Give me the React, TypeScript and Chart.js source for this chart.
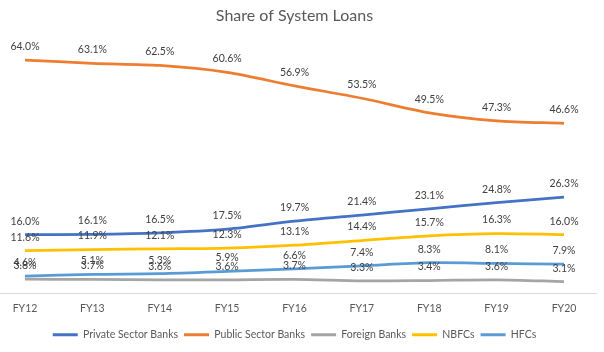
import React, { useEffect, useRef } from "react";
import { Chart, registerables } from "chart.js";

Chart.register(...registerables);

const categories = ["FY12", "FY13", "FY14", "FY15", "FY16", "FY17", "FY18", "FY19", "FY20"];
const privateSectorBanks = [16.0, 16.1, 16.5, 17.5, 19.7, 21.4, 23.1, 24.8, 26.3];
const publicSectorBanks = [64.0, 63.1, 62.5, 60.6, 56.9, 53.5, 49.5, 47.3, 46.6];
const foreignBanks = [3.8, 3.7, 3.6, 3.6, 3.7, 3.3, 3.4, 3.6, 3.1];
const nbfcs = [11.6, 11.9, 12.1, 12.3, 13.1, 14.4, 15.7, 16.3, 16.0];
const hfcs = [4.6, 5.1, 5.3, 5.9, 6.6, 7.4, 8.3, 8.1, 7.9];

const seriesNames = ["Private Sector Banks", "Public Sector Banks", "Foreign Banks", "NBFCs", "HFCs"];
const seriesColors = ["#4472C4", "#ED7D31", "#A5A5A5", "#FFC000", "#5B9BD5"];
const seriesValues = [privateSectorBanks, publicSectorBanks, foreignBanks, nbfcs, hfcs];

const FONT = "Lato, 'Open Sans', sans-serif";

const axisLinePlugin = {
  id: "axisLine",
  beforeDatasetsDraw(chart: any) {
    const y = Math.round(chart.scales.y.getPixelForValue(0)) + 0.5;
    const ctx = chart.ctx;
    ctx.save();
    ctx.strokeStyle = "#D9D9D9";
    ctx.lineWidth = 1;
    ctx.beginPath();
    ctx.moveTo(0, y);
    ctx.lineTo(597, y);
    ctx.stroke();
    ctx.restore();
  },
};

const dataLabelPlugin = {
  id: "dataLabels",
  afterDatasetsDraw(chart: any) {
    const ctx = chart.ctx;
    ctx.save();
    ctx.font = `10.5px ${FONT}`;
    ctx.fillStyle = "#404040";
    ctx.textAlign = "center";
    ctx.textBaseline = "middle";
    chart.data.datasets.forEach((ds: any, i: number) => {
      const meta = chart.getDatasetMeta(i);
      meta.data.forEach((pt: any, j: number) => {
        ctx.fillText(Number(ds.data[j]).toFixed(1) + "%", pt.x, pt.y - 13.5);
      });
    });
    ctx.restore();
  },
};

export default function App() {
  const canvasRef = useRef<HTMLCanvasElement | null>(null);

  useEffect(() => {
    if (!canvasRef.current) return;
    const chart = new Chart(canvasRef.current, {
      type: "line",
      data: {
        labels: categories,
        datasets: seriesNames.map((name, i) => ({
          label: name,
          data: seriesValues[i],
          borderColor: seriesColors[i],
          backgroundColor: seriesColors[i],
          borderWidth: 2.75,
          pointRadius: 0,
          tension: 0.3,
          fill: false,
        })),
      },
      options: {
        animation: false,
        responsive: true,
        maintainAspectRatio: false,
        layout: { padding: { left: 25, right: 40, top: 6, bottom: 2 } },
        plugins: {
          title: {
            display: true,
            text: "Share of System Loans",
            color: "#595959",
            font: { family: FONT, size: 16, weight: "normal" },
            padding: { top: 0, bottom: 13 },
          },
          legend: {
            position: "bottom",
            labels: {
              boxWidth: 25,
              boxHeight: 3,
              padding: 6,
              color: "#595959",
              font: { family: FONT, size: 10.5 },
              generateLabels: (ch: any) =>
                ch.data.datasets.map((ds: any, i: number) => ({
                  text: ds.label,
                  fillStyle: ds.borderColor,
                  strokeStyle: ds.borderColor,
                  lineWidth: 0,
                  fontColor: "#595959",
                  hidden: false,
                  datasetIndex: i,
                })),
            },
          },
          tooltip: { enabled: false },
        },
        scales: {
          x: {
            offset: false,
            grid: { display: false, drawTicks: false },
            border: { display: false },
            ticks: {
              color: "#595959",
              font: { family: FONT, size: 10.5 },
              padding: 9,
              maxRotation: 0,
              autoSkip: false,
            },
          },
          y: {
            display: false,
            min: 0,
            max: 70,
          },
        },
      },
      plugins: [axisLinePlugin, dataLabelPlugin],
    });
    return () => chart.destroy();
  }, []);

  return (
    <div style={{ position: "fixed", left: 0, top: 0, width: 604, height: 352, background: "#fff" }}>
      <canvas ref={canvasRef} />
    </div>
  );
}
